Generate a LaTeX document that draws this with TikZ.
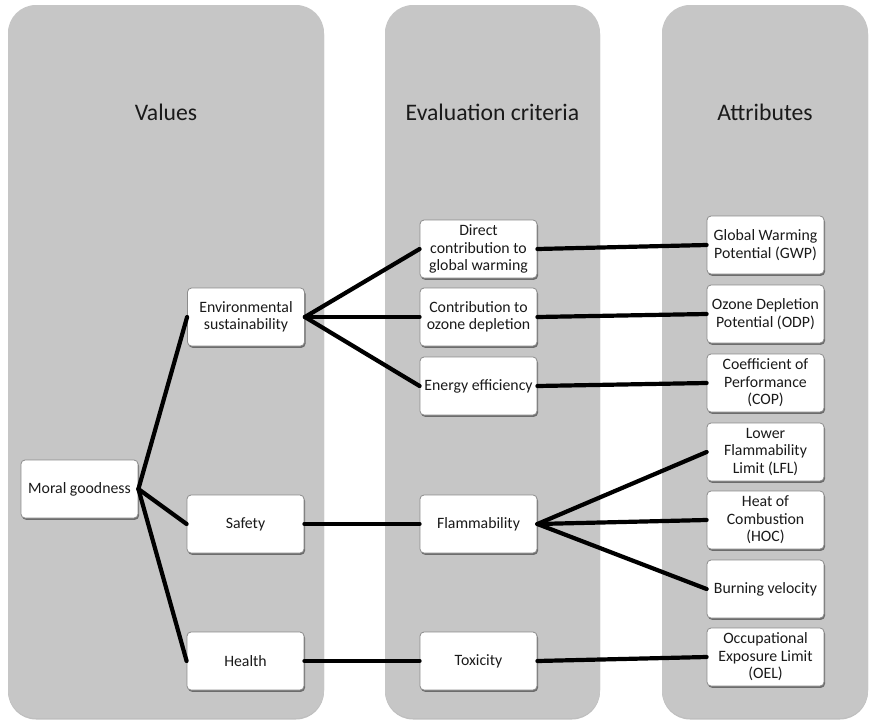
\documentclass[tikz,border=0pt]{standalone}
\usepackage{fontspec}
\setmainfont{Carlito}
\usetikzlibrary{shadows}
\definecolor{panelgray}{HTML}{C6C6C6}
\definecolor{boxedge}{HTML}{8C8C8C}
\definecolor{ink}{HTML}{1A1A1A}
\begin{document}
\begin{tikzpicture}[x=1pt,y=-1pt,
  panel/.style={fill=panelgray,draw=none,rounded corners=28pt,
    drop shadow={shadow xshift=0pt,shadow yshift=-1.5pt,opacity=0.25,fill=black}},
  title/.style={anchor=base,font=\fontsize{23.7}{26}\selectfont,text=ink},
  cbox/.style={draw=boxedge,line width=0.8pt,fill=white,rounded corners=4pt,
    minimum width=117pt,minimum height=58pt,inner sep=1pt,align=center,
    font=\fontsize{15.8}{17.5}\selectfont,text=ink,
    drop shadow={shadow xshift=1pt,shadow yshift=-1.8pt,opacity=0.45,fill=black}},
  link/.style={line width=4.2pt,draw=black,line cap=round,line join=round}]
\useasboundingbox (0,0) rectangle (870,726);
\fill[white] (0,0) rectangle (870,726);

% column panels
\path[panel] (8,5) rectangle (324,718);
\path[panel] (385,5) rectangle (600,718);
\path[panel] (662,5) rectangle (868,718);

% column headings
\node[title] (tv) at (166,120) {Values};
\node[title] (te) at (492.5,120) {Evaluation criteria};
\node[title] (ta) at (765,120) {Attributes};

% values
\node[cbox] (mg) at (79.5,489) {Moral goodness};
\node[cbox] (env) at (246,317) {Environmental\\sustainability};
\node[cbox] (saf) at (245.5,524) {Safety};
\node[cbox] (hea) at (245.5,661) {Health};

% evaluation criteria
\node[cbox] (dcgw) at (478.5,249) {Direct\\contribution to\\global warming};
\node[cbox] (ozo) at (478.5,317) {Contribution to\\ozone depletion};
\node[cbox] (ene) at (478.5,386) {Energy efficiency};
\node[cbox] (fla) at (478.5,524) {Flammability};
\node[cbox] (tox) at (478.5,661) {Toxicity};

% attributes
\node[cbox] (gwp) at (765.5,245) {Global Warming\\Potential (GWP)};
\node[cbox] (odp) at (765.5,314) {Ozone Depletion\\Potential (ODP)};
\node[cbox] (cop) at (765.5,383) {Coefficient of\\Performance\\(COP)};
\node[cbox] (lfl) at (765.5,452) {Lower\\Flammability\\Limit (LFL)};
\node[cbox] (hoc) at (765.5,520) {Heat of\\Combustion\\(HOC)};
\node[cbox] (bv) at (765.5,589) {Burning velocity};
\node[cbox] (oel) at (765.5,657) {Occupational\\Exposure Limit\\(OEL)};

% connectors
\draw[link] (mg.east) -- (env.west);
\draw[link] (mg.east) -- (saf.west);
\draw[link] (mg.east) -- (hea.west);
\draw[link] (env.east) -- (dcgw.west);
\draw[link] (env.east) -- (ozo.west);
\draw[link] (env.east) -- (ene.west);
\draw[link] (saf.east) -- (fla.west);
\draw[link] (hea.east) -- (tox.west);
\draw[link] (dcgw.east) -- (gwp.west);
\draw[link] (ozo.east) -- (odp.west);
\draw[link] (ene.east) -- (cop.west);
\draw[link] (fla.east) -- (lfl.west);
\draw[link] (fla.east) -- (hoc.west);
\draw[link] (fla.east) -- (bv.west);
\draw[link] (tox.east) -- (oel.west);
\end{tikzpicture}
\end{document}
